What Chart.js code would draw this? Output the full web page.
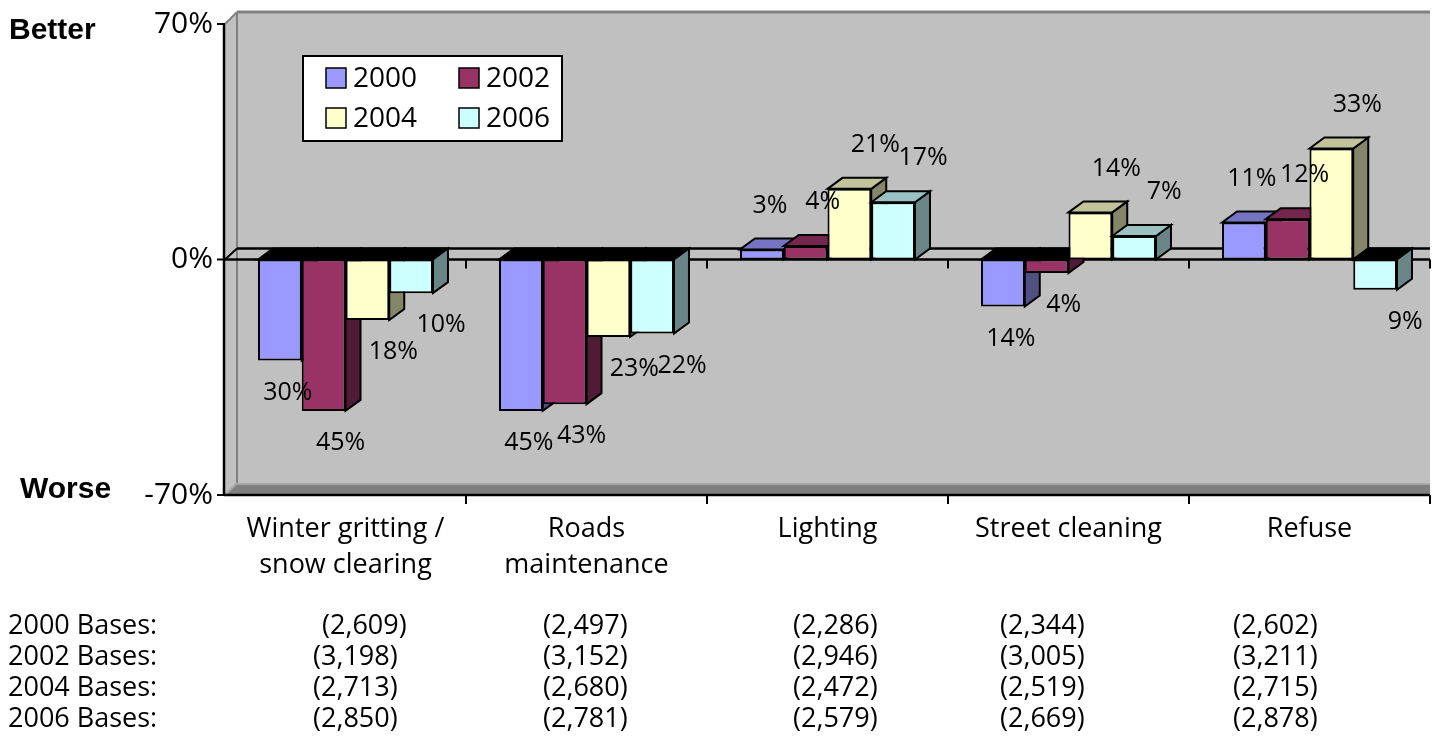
<!DOCTYPE html>
<html>
<head>
<meta charset="utf-8">
<title>Services: better or worse</title>
<script src="https://cdn.jsdelivr.net/npm/chart.js@4.4.1/dist/chart.umd.min.js"></script>
<style>
  html, body { margin: 0; padding: 0; background: #fff; }
  canvas { display: block; }
</style>
</head>
<body>
<canvas id="servicesChart" width="1436" height="737"></canvas>
<script>
// Net change (better minus worse), by service and survey year
const categories = [['Winter gritting /', 'snow clearing'], ['Roads', 'maintenance'], 'Lighting', 'Street cleaning', 'Refuse'];
const years = ['2000', '2002', '2004', '2006'];
const values2000 = [-30, -45, 3, -14, 11];
const values2002 = [-45, -43, 4, -4, 12];
const values2004 = [-18, -23, 21, 14, 33];
const values2006 = [-10, -22, 17, 7, -9];
const yTicks = [70, 0, -70];

// sample sizes printed under the chart
const bases2000 = [2609, 2497, 2286, 2344, 2602];
const bases2002 = [3198, 3152, 2946, 3005, 3211];
const bases2004 = [2713, 2680, 2472, 2519, 2715];
const bases2006 = [2850, 2781, 2579, 2669, 2878];

const colours = ['#9999FF', '#993366', '#FFFFCC', '#CCFFFF'];

const FONT = '"Open Sans", "Noto Sans", sans-serif';
const WALL = { dx: 12, dy: 12 };
const BAR = { dx: 15, dy: 11 };
const labelShift = [8, 17, 26, 30];
const baseColumnsX = [313, 543, 793, 1000, 1233];

function shade(hex, f) {
  const n = parseInt(hex.slice(1), 16);
  const r = Math.round(((n >> 16) & 255) * f);
  const g = Math.round(((n >> 8) & 255) * f);
  const b = Math.round((n & 255) * f);
  return 'rgb(' + r + ',' + g + ',' + b + ')';
}

function poly(ctx, pts, fill, stroke, lw) {
  ctx.beginPath();
  ctx.moveTo(pts[0][0], pts[0][1]);
  for (let i = 1; i < pts.length; i++) ctx.lineTo(pts[i][0], pts[i][1]);
  ctx.closePath();
  if (fill) { ctx.fillStyle = fill; ctx.fill(); }
  if (stroke) { ctx.strokeStyle = stroke; ctx.lineWidth = lw || 2; ctx.stroke(); }
}

function line(ctx, x1, y1, x2, y2, colour, lw) {
  ctx.beginPath();
  ctx.moveTo(x1, y1);
  ctx.lineTo(x2, y2);
  ctx.strokeStyle = colour;
  ctx.lineWidth = lw || 2;
  ctx.stroke();
}

function categoryEdges(x, count) {
  const edges = [];
  const step = x.getPixelForValue(1) - x.getPixelForValue(0);
  for (let i = 0; i <= count; i++) edges.push(x.getPixelForValue(i) - step / 2);
  return edges;
}

// walls, floor, the zero plane and both axes, under the bars
const backdrop = {
  id: 'backdrop',
  beforeDatasetsDraw(chart) {
    const { ctx, chartArea: a, scales: { x, y } } = chart;
    const zero = y.getPixelForValue(0);
    ctx.save();
    ctx.lineJoin = 'miter';

    poly(ctx, [[a.left + WALL.dx, a.top - WALL.dy], [a.right, a.top - WALL.dy],
      [a.right, a.bottom - WALL.dy], [a.left + WALL.dx, a.bottom - WALL.dy]], '#C0C0C0');
    poly(ctx, [[a.left, a.top], [a.left + WALL.dx, a.top - WALL.dy],
      [a.left + WALL.dx, a.bottom - WALL.dy], [a.left, a.bottom]], '#C0C0C0');
    poly(ctx, [[a.left, a.bottom], [a.left + WALL.dx, a.bottom - WALL.dy],
      [a.right, a.bottom - WALL.dy], [a.right, a.bottom]], '#808080');

    line(ctx, a.left, a.top, a.left + WALL.dx, a.top - WALL.dy, '#808080', 2);
    line(ctx, a.left + WALL.dx, a.top - WALL.dy, a.right, a.top - WALL.dy, '#808080', 3);
    line(ctx, a.left + WALL.dx, a.top - WALL.dy, a.left + WALL.dx, a.bottom - WALL.dy, '#808080', 2);
    line(ctx, a.left + WALL.dx, a.bottom - WALL.dy + 1, a.right, a.bottom - WALL.dy + 1, '#A8A8A8', 2);
    line(ctx, a.left, a.bottom, a.left + WALL.dx, a.bottom - WALL.dy, '#A8A8A8', 2);

    // plane through zero
    line(ctx, a.left, zero, a.left + WALL.dx, zero - BAR.dy, '#000', 2);
    line(ctx, a.left + WALL.dx, zero - BAR.dy, a.right, zero - BAR.dy, '#000', 2.5);
    line(ctx, a.left, zero, a.right, zero, '#000', 2.5);

    // axes
    line(ctx, a.left - 1, a.top, a.left - 1, a.bottom + 1, '#000', 2.5);
    line(ctx, a.left - 1, a.bottom, a.right, a.bottom, '#000', 2.5);
    yTicks.forEach(v => {
      const py = y.getPixelForValue(v);
      line(ctx, a.left - 8, py, a.left, py, '#000', 2);
    });
    categoryEdges(x, categories.length).slice(1).forEach(px => {
      line(ctx, px, a.bottom, px, a.bottom + 9, '#000', 2);
      line(ctx, px, zero, px, zero + 9, '#000', 2);
    });
    ctx.restore();
  },

  // Chart.js paints the first series last; skip that and paint left to right below
  beforeDatasetDraw() {
    return false;
  },

  afterDatasetsDraw(chart) {
    const { ctx, scales: { y } } = chart;
    const zero = y.getPixelForValue(0);
    ctx.save();
    ctx.lineJoin = 'miter';
    chart.data.datasets.forEach((ds, i) => {
      const colour = colours[i];
      chart.getDatasetMeta(i).data.forEach((bar, j) => {
        bar.draw(ctx);
        const p = bar.getProps(['x', 'y', 'width'], true);
        const x0 = p.x - p.width / 2, x1 = p.x + p.width / 2;
        if (ds.data[j] >= 0) {
          const top = p.y;
          poly(ctx, [[x1, top], [x1 + BAR.dx, top - BAR.dy], [x1 + BAR.dx, zero - BAR.dy], [x1, zero]],
            shade(colour, 0.52), '#000', 2);
          poly(ctx, [[x0, top], [x0 + BAR.dx, top - BAR.dy], [x1 + BAR.dx, top - BAR.dy], [x1, top]],
            shade(colour, 0.76), '#000', 2);
        } else {
          const bottom = p.y;
          poly(ctx, [[x0, zero], [x0 + BAR.dx, zero - BAR.dy], [x1 + BAR.dx, zero - BAR.dy], [x1, zero]],
            '#000', '#000', 2);
          poly(ctx, [[x1, zero], [x1 + BAR.dx, zero - BAR.dy], [x1 + BAR.dx, bottom - BAR.dy], [x1, bottom]],
            shade(colour, 0.52), '#000', 2);
        }
      });
    });

    // value labels, shown without sign
    ctx.fillStyle = '#000';
    ctx.font = '25px ' + FONT;
    ctx.textAlign = 'center';
    ctx.textBaseline = 'middle';
    chart.data.datasets.forEach((ds, i) => {
      chart.getDatasetMeta(i).data.forEach((bar, j) => {
        const v = ds.data[j];
        const p = bar.getProps(['x', 'y'], true);
        const ly = v >= 0 ? p.y - 44 : p.y + 32;
        ctx.fillText(Math.abs(v) + '%', p.x + labelShift[i], ly);
      });
    });
    ctx.restore();
  }
};

// axis text, side captions, legend and the table of bases
const annotations = {
  id: 'annotations',
  afterDraw(chart) {
    const { ctx, chartArea: a, scales: { x, y } } = chart;
    ctx.save();
    ctx.fillStyle = '#000';

    ctx.font = '30px ' + FONT;
    ctx.textAlign = 'right';
    ctx.textBaseline = 'middle';
    yTicks.forEach(v => ctx.fillText(v + '%', a.left - 12, y.getPixelForValue(v)));

    ctx.font = 'bold 30px "Liberation Sans", Arial, sans-serif';
    ctx.textAlign = 'left';
    ctx.textBaseline = 'alphabetic';
    ctx.fillText('Better', 9, 39);
    ctx.fillText('Worse', 20, 498);

    ctx.font = '27px ' + FONT;
    ctx.textAlign = 'center';
    categories.forEach((c, i) => {
      const lines = Array.isArray(c) ? c : [c];
      lines.forEach((t, k) => ctx.fillText(t, x.getPixelForValue(i), a.bottom + 42 + k * 36));
    });

    const bases = [bases2000, bases2002, bases2004, bases2006];
    ctx.font = '27px ' + FONT;
    bases.forEach((row, r) => {
      const by = 634 + r * 31;
      ctx.textAlign = 'left';
      ctx.fillText(years[r] + ' Bases:', 8, by);
      row.forEach((n, c) => {
        const indent = r === 0 && c === 0 ? 9 : 0;
        ctx.fillText('(' + n.toLocaleString('en-GB') + ')', baseColumnsX[c] + indent, by);
      });
    });

    // legend box
    const lx = 303, ly = 56;
    ctx.fillStyle = '#fff';
    ctx.fillRect(lx, ly, 259, 85);
    ctx.strokeStyle = '#000';
    ctx.lineWidth = 2;
    ctx.strokeRect(lx, ly, 259, 85);
    ctx.font = '28px ' + FONT;
    ctx.textAlign = 'left';
    ctx.textBaseline = 'middle';
    chart.data.datasets.forEach((ds, i) => {
      const sx = lx + 23 + (i % 2) * 133;
      const sy = ly + 12 + Math.floor(i / 2) * 40;
      ctx.fillStyle = ds.backgroundColor;
      ctx.fillRect(sx, sy, 20, 20);
      ctx.lineWidth = 1.5;
      ctx.strokeRect(sx, sy, 20, 20);
      ctx.fillStyle = '#000';
      ctx.fillText(ds.label, sx + 27, sy + 11);
    });
    ctx.restore();
  }
};

const seriesValues = [values2000, values2002, values2004, values2006];

new Chart(document.getElementById('servicesChart'), {
  type: 'bar',
  data: {
    labels: categories,
    datasets: years.map((yr, i) => ({
      label: yr,
      data: seriesValues[i],
      backgroundColor: colours[i],
      borderColor: '#000',
      borderWidth: 2,
      borderSkipped: false,
      categoryPercentage: 0.726,
      barPercentage: 1
    }))
  },
  options: {
    responsive: false,
    animation: false,
    layout: { padding: { left: 225, right: 6, top: 24, bottom: 242 } },
    plugins: { legend: { display: false }, tooltip: { enabled: false } },
    scales: {
      x: { display: false },
      y: { display: false, min: -70, max: 70 }
    }
  },
  plugins: [backdrop, annotations]
});
</script>
</body>
</html>
